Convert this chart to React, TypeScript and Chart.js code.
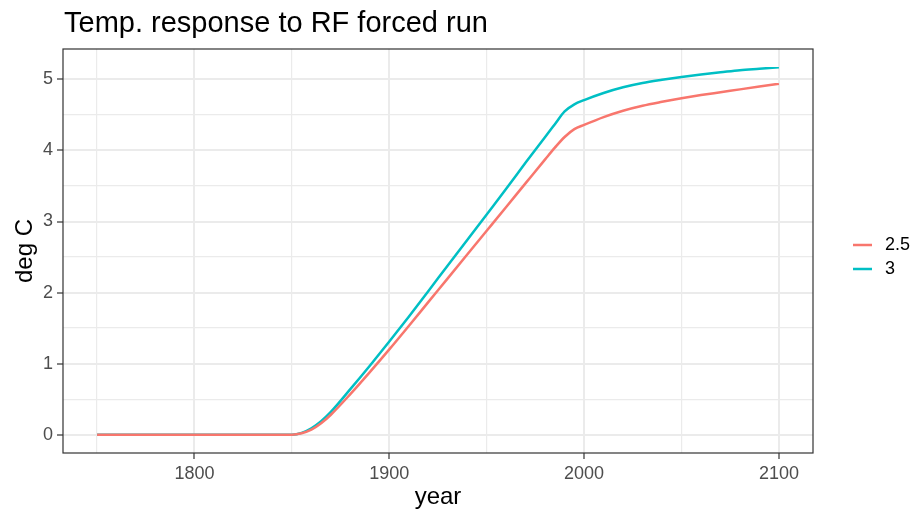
import React, { useEffect, useRef } from "react";
import { Chart, registerables } from "chart.js";

Chart.register(...registerables);

// ---- data ----
const years = [
  1750, 1760, 1770, 1780, 1790, 1800, 1810, 1820, 1830, 1840, 1850,
  1855, 1860, 1865, 1870,
  1880, 1890, 1900, 1910, 1920, 1930, 1940, 1950, 1960, 1970, 1980,
  1985, 1990, 1995, 2000,
  2010, 2020, 2030, 2040, 2050, 2060, 2070, 2080, 2090, 2100,
];
const tempCS25 = [
  0, 0, 0, 0, 0, 0, 0, 0, 0, 0, 0,
  0.02, 0.07, 0.16, 0.28,
  0.57, 0.88, 1.2, 1.53, 1.865, 2.2, 2.535, 2.87, 3.205, 3.54, 3.875,
  4.04, 4.19, 4.3, 4.36,
  4.47, 4.56, 4.63, 4.685, 4.735, 4.78, 4.82, 4.86, 4.9, 4.94,
];
const tempCS3 = [
  0, 0, 0, 0, 0, 0, 0, 0, 0, 0, 0,
  0.025, 0.09, 0.19, 0.32,
  0.64, 0.97, 1.31, 1.66, 2.02, 2.38, 2.74, 3.1, 3.46, 3.83, 4.19,
  4.37, 4.55, 4.65, 4.71,
  4.81, 4.89, 4.95, 4.995, 5.035, 5.07, 5.1, 5.13, 5.15, 5.17,
];
const seriesNames = ["2.5", "3"];
const seriesColors = ["#F8766D", "#00BFC4"];
const xMajorTicks = [1800, 1900, 2000, 2100];
const xMinorTicks = [1750, 1850, 1950, 2050];
const yMajorTicks = [0, 1, 2, 3, 4, 5];
const yMinorTicks = [0.5, 1.5, 2.5, 3.5, 4.5];
const chartTitle = "Temp. response to RF forced run";
const xTitle = "year";
const yTitle = "deg C";

const FONT = "'Liberation Sans', Arial, Helvetica, sans-serif";

export default function App() {
  const ref = useRef<HTMLCanvasElement | null>(null);

  useEffect(() => {
    document.body.style.margin = "0";
    const canvas = ref.current;
    if (!canvas) return;

    const xAll = [...xMajorTicks, ...xMinorTicks].sort((a, b) => a - b);
    const yAll = [...yMajorTicks, ...yMinorTicks].sort((a, b) => a - b);
    const isMajorX = (v: number) => xMajorTicks.includes(v);
    const isMajorY = (v: number) => yMajorTicks.includes(v);

    const ggPlugin = {
      id: "gg",
      beforeDraw(chart: any) {
        const c = chart.ctx;
        c.save();
        c.fillStyle = "#ffffff";
        c.fillRect(0, 0, chart.width, chart.height);
        c.restore();
      },
      afterDatasetsDraw(chart: any) {
        const { left, top, right, bottom } = chart.chartArea;
        const c = chart.ctx;
        c.save();
        c.strokeStyle = "#333333";
        c.lineWidth = 1.2;
        c.strokeRect(left, top, right - left, bottom - top);
        c.restore();
      },
      afterDraw(chart: any) {
        const c = chart.ctx;
        c.save();
        // title
        c.fillStyle = "#000000";
        c.font = `29px ${FONT}`;
        c.textAlign = "left";
        c.textBaseline = "alphabetic";
        c.fillText(chartTitle, chart.chartArea.left + 1, 32);
        // legend
        const ys = [245, 269];
        c.font = `18px ${FONT}`;
        c.textBaseline = "middle";
        seriesNames.forEach((name, i) => {
          c.strokeStyle = seriesColors[i];
          c.lineWidth = 2.5;
          c.beginPath();
          c.moveTo(853, ys[i]);
          c.lineTo(872, ys[i]);
          c.stroke();
          c.fillStyle = "#000000";
          c.fillText(name, 885, ys[i] + 0.5);
        });
        c.restore();
      },
    };

    const chart = new Chart(canvas, {
      type: "line",
      data: {
        datasets: [tempCS25, tempCS3].map((vals, i) => ({
          label: seriesNames[i],
          data: years.map((yr, j) => ({ x: yr, y: vals[j] })),
          borderColor: seriesColors[i],
          backgroundColor: seriesColors[i],
          borderWidth: 2.5,
          pointRadius: 0,
          cubicInterpolationMode: "monotone" as const,
          fill: false,
        })),
      },
      options: {
        responsive: false,
        animation: false,
        devicePixelRatio: 1,
        layout: { padding: { left: 0, right: 101, top: 49, bottom: 0 } },
        plugins: {
          legend: { display: false },
          title: { display: false },
          tooltip: { enabled: false },
        },
        scales: {
          x: {
            type: "linear",
            min: 1732.5,
            max: 2117.5,
            afterBuildTicks: (scale: any) => {
              scale.ticks = xAll.map((v) => ({ value: v }));
            },
            afterFit: (scale: any) => {
              scale.height = 59;
            },
            border: { display: false },
            grid: {
              color: "#ebebeb",
              lineWidth: (ctx: any) => (ctx.tick && isMajorX(ctx.tick.value) ? 2 : 1.2),
              tickColor: (ctx: any) => (ctx.tick && isMajorX(ctx.tick.value) ? "#333333" : "rgba(0,0,0,0)"),
              tickLength: 6,
              tickWidth: 1.2,
            },
            ticks: {
              autoSkip: false,
              maxRotation: 0,
              padding: 4,
              color: "#4d4d4d",
              font: { family: FONT, size: 18 },
              callback: (v: any) => (isMajorX(Number(v)) ? String(v) : ""),
            },
            title: {
              display: true,
              text: xTitle,
              color: "#000000",
              font: { family: FONT, size: 24 },
              padding: { top: 0, bottom: 0 },
            },
          },
          y: {
            type: "linear",
            min: -0.2585,
            max: 5.4285,
            afterBuildTicks: (scale: any) => {
              scale.ticks = yAll.map((v) => ({ value: v }));
            },
            afterFit: (scale: any) => {
              scale.width = 63;
            },
            border: { display: false },
            grid: {
              color: "#ebebeb",
              lineWidth: (ctx: any) => (ctx.tick && isMajorY(ctx.tick.value) ? 2 : 1.2),
              tickColor: (ctx: any) => (ctx.tick && isMajorY(ctx.tick.value) ? "#333333" : "rgba(0,0,0,0)"),
              tickLength: 6,
              tickWidth: 1.2,
            },
            ticks: {
              autoSkip: false,
              padding: 4,
              color: "#4d4d4d",
              font: { family: FONT, size: 18 },
              callback: (v: any) => (isMajorY(Number(v)) ? String(v) : ""),
            },
            title: {
              display: true,
              text: yTitle,
              color: "#000000",
              font: { family: FONT, size: 24 },
              padding: { top: 11, bottom: 0 },
            },
          },
        },
      },
      plugins: [ggPlugin],
    } as any);

    return () => {
      chart.destroy();
    };
  }, []);

  return (
    <canvas
      ref={ref}
      width={914}
      height={512}
      style={{ display: "block", width: 914, height: 512 }}
    />
  );
}
